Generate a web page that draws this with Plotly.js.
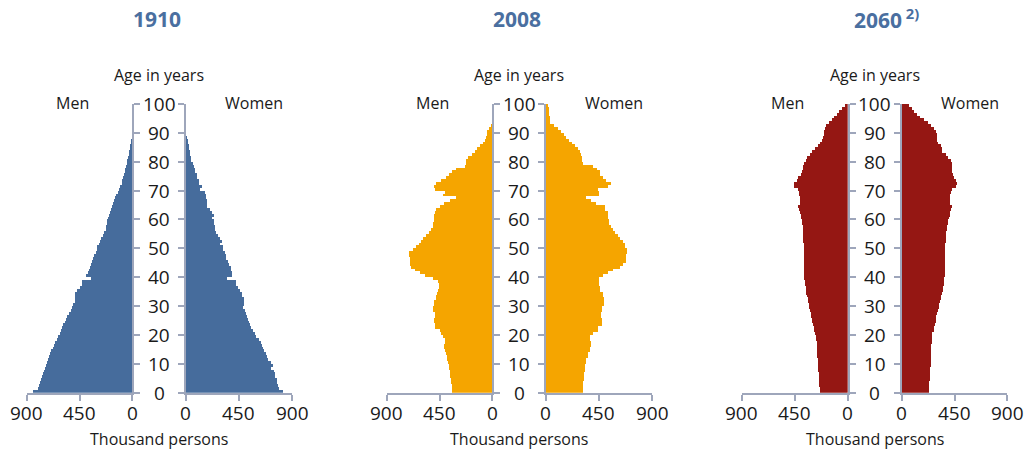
<!DOCTYPE html>
<html>
<head>
<meta charset="utf-8">
<script src="https://cdn.plot.ly/plotly-3.0.1.min.js"></script>
<style>
  html, body { margin: 0; padding: 0; background: #ffffff; }
  #chart { width: 1026px; height: 453px; }
</style>
</head>
<body>
<div id="chart"></div>
<script>
// ---- Data (thousand persons, ages 0..99) ----
const years = ["1910", "2008", "2060<sup> 2)</sup>"];
const sexLabels = ["Men", "Women"];
const ageTicks = [0, 10, 20, 30, 40, 50, 60, 70, 80, 90, 100];
const ageTickLabels = ["0", "10", "20", "30", "40", "50", "60", "70", "80", "90", "100"];
const valueTicks = [0, 450, 900];
const valueTickLabels = ["0", "450", "900"];

const men1910 = [
  850, 805, 795, 790, 778, 770, 762, 755, 745, 738,
  728, 722, 708, 700, 690, 678, 668, 655, 642, 632,
  620, 606, 596, 588, 576, 566, 558, 542, 526, 512,
  502, 492, 488, 486, 487, 470, 448, 430, 428, 350,
  392, 376, 370, 362, 355, 342, 334, 325, 312, 305,
  298, 285, 278, 268, 252, 240, 228, 220, 216, 213,
  204, 198, 192, 178, 170, 162, 156, 146, 138, 122,
  112, 106, 92, 86, 82, 72, 66, 62, 54, 48,
  43, 36, 32, 27, 22, 17, 13, 8, 5, 3,
  2, 1, 1, 0, 0, 0, 0, 0, 0, 0
];
const women1910 = [
  823, 790, 778, 776, 772, 755, 752, 744, 725, 738,
  719, 697, 688, 677, 662, 658, 642, 638, 620, 598,
  584, 570, 556, 542, 540, 524, 520, 508, 499, 485,
  492, 490, 492, 480, 478, 457, 443, 425, 422, 350,
  395, 395, 381, 380, 367, 358, 344, 344, 330, 316,
  316, 293, 310, 288, 274, 254, 245, 245, 237, 237,
  223, 237, 223, 209, 180, 180, 180, 169, 169, 161,
  124, 141, 113, 113, 96, 96, 82, 82, 71, 62,
  48, 48, 40, 40, 28, 28, 20, 20, 11, 6,
  3, 1, 0, 0, 0, 0, 0, 0, 0, 0
];
const men2008 = [
  344, 344, 344, 350, 355, 358, 362, 364, 366, 372,
  378, 382, 390, 392, 400, 410, 410, 406, 406, 420,
  435, 449, 491, 491, 497, 497, 486, 486, 506, 506,
  497, 497, 480, 477, 469, 465, 454, 456, 463, 506,
  577, 619, 656, 690, 699, 699, 705, 713, 713, 676,
  653, 628, 605, 590, 562, 542, 520, 506, 506, 497,
  497, 497, 490, 477, 449, 412, 364, 307, 420, 406,
  490, 497, 477, 440, 392, 372, 344, 307, 230, 225,
  221, 207, 173, 150, 128, 108, 82, 65, 51, 43,
  43, 28, 14, 0, 0, 0, 0, 0, 0, 0
];
const women2008 = [
  316, 316, 316, 318, 321, 321, 322, 333, 333, 333,
  344, 344, 358, 358, 372, 372, 386, 386, 372, 372,
  400, 443, 443, 479, 479, 479, 471, 471, 479, 479,
  491, 491, 491, 485, 485, 462, 462, 448, 448, 448,
  485, 527, 570, 626, 654, 677, 677, 677, 691, 691,
  668, 668, 654, 632, 612, 584, 570, 550, 533, 533,
  527, 527, 527, 499, 499, 428, 386, 338, 448, 448,
  443, 527, 555, 513, 485, 457, 457, 434, 400, 316,
  310, 310, 302, 290, 274, 245, 226, 197, 175, 152,
  133, 104, 68, 40, 34, 34, 30, 28, 24, 20
];
const men2060 = [
  235, 235, 240, 243, 243, 245, 247, 249, 250, 252,
  255, 256, 258, 258, 260, 262, 263, 264, 265, 269,
  280, 283, 290, 294, 302, 306, 309, 314, 317, 325,
  330, 336, 340, 344, 350, 354, 358, 362, 366, 370,
  370, 371, 372, 372, 373, 372, 372, 373, 372, 373,
  374, 375, 376, 378, 379, 380, 381, 383, 385, 388,
  394, 398, 405, 415, 425, 405, 405, 408, 413, 416,
  425, 456, 456, 433, 419, 399, 384, 380, 378, 374,
  350, 346, 320, 306, 277, 255, 232, 222, 207, 200,
  198, 190, 185, 156, 136, 113, 93, 74, 51, 23
];
const women2060 = [
  233, 233, 234, 235, 238, 240, 241, 242, 243, 246,
  247, 247, 248, 248, 249, 252, 253, 254, 255, 260,
  262, 273, 277, 287, 290, 292, 296, 300, 310, 314,
  322, 326, 335, 338, 341, 348, 350, 358, 361, 363,
  365, 366, 366, 366, 367, 367, 367, 368, 368, 369,
  369, 370, 374, 375, 376, 377, 382, 385, 393, 396,
  405, 409, 410, 417, 426, 412, 412, 412, 415, 418,
  432, 466, 474, 466, 446, 440, 432, 432, 432, 430,
  417, 398, 375, 346, 340, 332, 312, 305, 298, 298,
  290, 275, 253, 227, 190, 156, 133, 105, 85, 62
];

const menSeries = [men1910, men2008, men2060];
const womenSeries = [women1910, women2008, women2060];
const colors = ["#466c9c", "#f5a500", "#951713"];

// ---- Layout geometry (pixels) ----
const W = 1026, H = 453;
const menDom = [[26.7, 132.3], [386.7, 492.3], [741.7, 847.7]];
const womenDom = [[185.7, 292.0], [545.7, 652.0], [901.7, 1007.3]];
const yTopPx = 104, yBotPx = 392.7;
const axisColor = "#9ea6bb";
const fontFam = "'Open Sans', 'Noto Sans', sans-serif";

const px = v => v / W;
const py = v => (H - v) / H;

const ages = men1910.map((_, i) => i + 0.5);

const traces = [];
const layout = {
  width: W, height: H,
  margin: {l: 0, r: 0, t: 0, b: 0},
  paper_bgcolor: "#ffffff",
  plot_bgcolor: "rgba(0,0,0,0)",
  showlegend: false,
  bargap: 0,
  font: {family: fontFam, color: "#1a1a1a"},
  annotations: []
};

function xAxis(dom, reversed, n) {
  return {
    domain: [px(dom[0]), px(dom[1])],
    range: reversed ? [900, 0] : [0, 900],
    anchor: "y" + n,
    tickvals: valueTicks,
    showticklabels: false,
    showline: true, linecolor: axisColor, linewidth: 2,
    ticks: "outside", ticklen: 6, tickwidth: 2, tickcolor: axisColor,
    showgrid: false, zeroline: false, fixedrange: true
  };
}
function yAxis(side, n) {
  return {
    domain: [py(yBotPx), py(yTopPx)],
    range: [0, 100],
    anchor: "x" + n,
    side: side,
    tickvals: ageTicks,
    showticklabels: false,
    showline: true, linecolor: axisColor, linewidth: 2,
    ticks: "outside", ticklen: 6, tickwidth: 2, tickcolor: axisColor,
    showgrid: false, zeroline: false, fixedrange: true
  };
}
function txt(x, y, text, size, color, xref, yref) {
  return {
    xref: xref || "paper", yref: yref || "paper", x: x, y: y,
    text: text, showarrow: false, xanchor: "center", yanchor: "middle",
    font: {size: size, family: fontFam, color: color || "#1a1a1a"}
  };
}

for (let p = 0; p < 3; p++) {
  const nm = 2 * p + 1, nw = 2 * p + 2;
  const sm = nm === 1 ? "" : String(nm);
  const sw = String(nw);
  traces.push({
    type: "bar", orientation: "h", x: menSeries[p], y: ages, width: 1,
    xaxis: "x" + sm, yaxis: "y" + sm, name: sexLabels[0],
    marker: {color: colors[p], line: {width: 0}}, hoverinfo: "skip"
  });
  traces.push({
    type: "bar", orientation: "h", x: womenSeries[p], y: ages, width: 1,
    xaxis: "x" + sw, yaxis: "y" + sw, name: sexLabels[1],
    marker: {color: colors[p], line: {width: 0}}, hoverinfo: "skip"
  });
  layout["xaxis" + sm] = xAxis(menDom[p], true, sm);
  layout["xaxis" + sw] = xAxis(womenDom[p], false, sw);
  layout["yaxis" + sm] = yAxis("right", sm);
  layout["yaxis" + sw] = yAxis("left", sw);

  // value tick labels placed on the x scales
  valueTicks.forEach((t, i) => {
    layout.annotations.push(txt(t, py(412.5), valueTickLabels[i], 19, null, "x" + sm, "paper"));
    layout.annotations.push(txt(t, py(412.5), valueTickLabels[i], 19, null, "x" + sw, "paper"));
  });

  const mid = (menDom[p][1] + womenDom[p][0]) / 2;
  // age tick labels centred between the two halves
  ageTicks.forEach((t, i) => {
    layout.annotations.push(txt(px(mid), t, ageTickLabels[i], 19, null, "paper", "y" + sm));
  });
  layout.annotations.push(txt(px(p === 2 ? mid + 12 : mid - 2), py(19),
    "<b>" + years[p] + "</b>", 21, "#4a6fa0"));
  layout.annotations.push(txt(px(mid), py(75), "Age in years", 16));
  layout.annotations.push(txt(px(mid - 87), py(103), sexLabels[0], 16));
  layout.annotations.push(txt(px(mid + 95), py(103), sexLabels[1], 16));
  layout.annotations.push(txt(px(mid), py(439), "Thousand persons", 16));
}

Plotly.newPlot("chart", traces, layout, {displayModeBar: false, staticPlot: true});
</script>
</body>
</html>
